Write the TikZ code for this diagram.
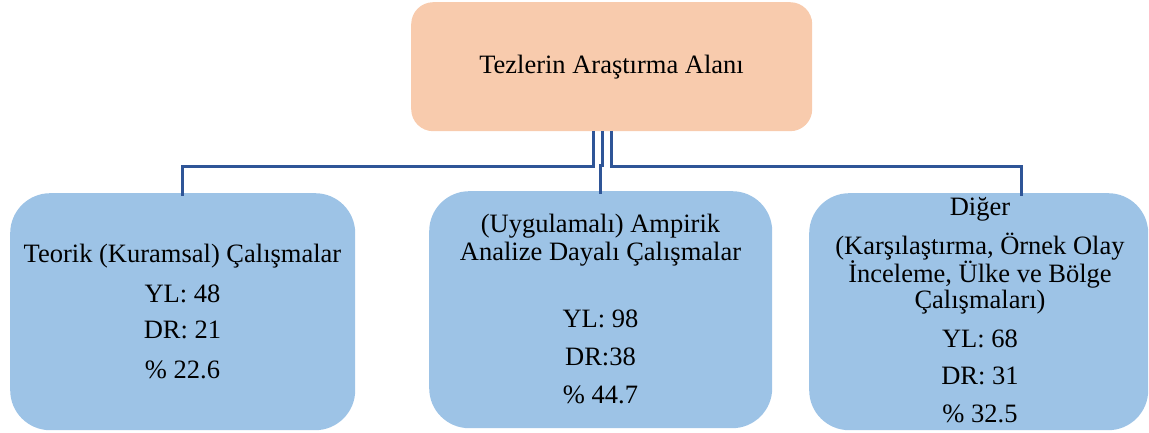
\documentclass[tikz,border=0pt]{standalone}
\usepackage{fontspec}
\setmainfont{Liberation Serif}
\definecolor{peach}{HTML}{F8CBAD}
\definecolor{lblue}{HTML}{9DC3E6}
\definecolor{lineblue}{HTML}{2F5597}
\begin{document}
\begin{tikzpicture}[x=1pt,y=-1pt,
  topbox/.style={fill=peach,draw=none,rounded corners=22pt,anchor=north west,inner sep=0pt},
  bluebox/.style={fill=lblue,draw=none,rounded corners=40pt,anchor=north west,inner sep=0pt},
  txt/.style={anchor=base,inner sep=0pt,font=\fontsize{26.5pt}{30pt}\selectfont},
  conn/.style={draw=lineblue,line width=3pt}]
\useasboundingbox (0,0) rectangle (1149,433);
% boxes
\node[topbox,minimum width=401pt,minimum height=129pt] (top) at (411,2) {};
\node[bluebox,minimum width=345pt,minimum height=237pt] (lb) at (10,193) {};
\node[bluebox,minimum width=343pt,minimum height=237pt] (mb) at (429,191) {};
\node[bluebox,minimum width=339pt,minimum height=237pt] (rb) at (809,193) {};
% texts
\node[txt] (t0) at (611.5,74) {Tezlerin Araştırma Alanı};
\node[txt] (l1) at (182.5,262) {Teorik (Kuramsal) Çalışmalar};
\node[txt] (l2) at (182.5,302) {YL: 48};
\node[txt] (l3) at (182.5,338) {DR: 21};
\node[txt] (l4) at (182.5,378) {\% 22.6};
\node[txt] (m1) at (600.5,233) {(Uygulamalı) Ampirik};
\node[txt] (m2) at (600.5,260) {Analize Dayalı Çalışmalar};
\node[txt] (m3) at (600.5,327) {YL: 98};
\node[txt] (m4) at (600.5,365) {DR:38};
\node[txt] (m5) at (600.5,403) {\% 44.7};
\node[txt] (r1) at (980,215) {Diğer};
\node[txt] (r2) at (980,254) {(Karşılaştırma, Örnek Olay};
\node[txt] (r3) at (980,282) {İnceleme, Ülke ve Bölge};
\node[txt] (r4) at (980,308) {Çalışmaları)};
\node[txt] (r5) at (980,347) {YL: 68};
\node[txt] (r6) at (980,384) {DR: 31};
\node[txt] (r7) at (980,422) {\% 32.5};
% connectors
\coordinate (cl) at (593,131);
\coordinate (cm) at (602,131);
\coordinate (cr) at (611,131);
\draw[conn] (cl) -- (593,167) -| ([yshift=-3pt]lb.north -| 182,0);
\draw[conn] (cm) -- (602,166) -- (600,166) -- ([yshift=-3pt]mb.north -| 600,0);
\draw[conn] (cr) -- (611,167) -| ([yshift=-3pt]rb.north -| 1021,0);
\end{tikzpicture}
\end{document}
